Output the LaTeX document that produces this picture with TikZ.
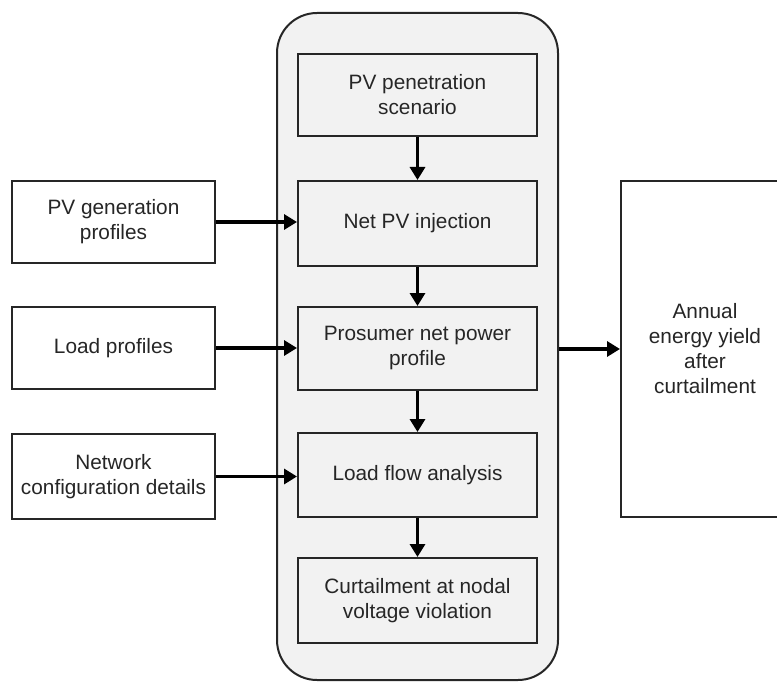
\documentclass[tikz,border=0pt]{standalone}
\usepackage{fontspec}
\setmainfont{Liberation Sans}
\usetikzlibrary{arrows.meta}
\definecolor{boxfill}{HTML}{F2F2F2}
\definecolor{lin}{HTML}{262626}
\begin{document}
\begin{tikzpicture}[x=1pt,y=-1pt,
  every node/.style={font=\fontsize{20.8}{25}\selectfont, align=center, text=lin},
  cbox/.style={draw=lin, line width=2pt, fill=boxfill, minimum width=239pt, inner sep=0pt},
  lbox/.style={draw=lin, line width=2pt, fill=white, minimum width=203pt, inner sep=0pt},
  arr/.style={draw=black, line width=3.5pt, -{Triangle[length=13pt,width=15pt]}},
]
\useasboundingbox (0,0) rectangle (777,682);
% container
\node[draw=lin, line width=2pt, fill=boxfill, rounded corners=40pt, minimum width=281pt, minimum height=667pt] (cont) at (417.5,346.5) {};
% central boxes
\node[cbox, minimum height=82pt] (b1) at (417.5,95) {PV penetration\\scenario};
\node[cbox, minimum height=85pt] (b2) at (417.5,223.5) {Net PV injection};
\node[cbox, minimum height=83pt] (b3) at (417.5,348.5) {Prosumer net power\\profile};
\node[cbox, minimum height=84pt] (b4) at (417.5,475) {Load flow analysis};
\node[cbox, minimum height=85pt] (b5) at (417.5,600.5) {Curtailment at nodal\\voltage violation};
% left boxes
\node[lbox, minimum height=82pt] (l1) at (113.5,222) {PV generation\\profiles};
\node[lbox, minimum height=82pt] (l2) at (113.5,348) {Load profiles};
\node[lbox, minimum height=85pt] (l3) at (113.5,476.5) {Network\\configuration details};
% right box
\node[lbox, minimum width=168pt, minimum height=336pt] (r) at (705,349) {Annual\\energy yield\\after\\curtailment};
% arrows
\draw[arr] (b1) -- (b2);
\draw[arr] (b2) -- (b3);
\draw[arr] (b3) -- (b4);
\draw[arr] (b4) -- (b5);
\draw[arr] (l1.east) -- (l1.east -| b2.west);
\draw[arr] (l2.east) -- (l2.east -| b3.west);
\draw[arr] (l3.east) -- (l3.east -| b4.west);
\draw[arr] (cont.east |- r.west) -- (r.west);
\end{tikzpicture}
\end{document}
